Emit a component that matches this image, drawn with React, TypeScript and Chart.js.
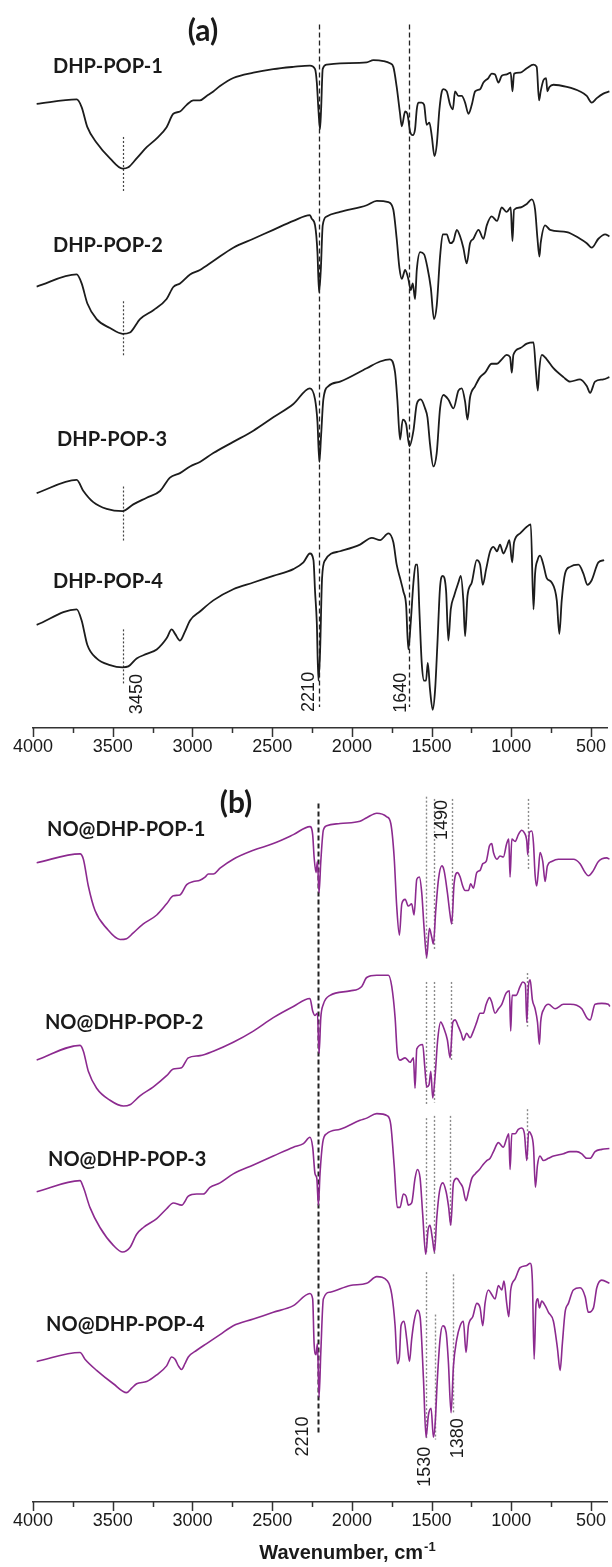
import React, { useEffect, useRef } from 'react';
import { Chart, registerables } from 'chart.js';

Chart.register(...registerables);

type Pair = [number, number];

// ---------- x axis ----------
const xMin = 400;
const xMax = 4000;
const majorTicks = [500, 1000, 1500, 2000, 2500, 3000, 3500, 4000];
const minorTicks = [750, 1250, 1750, 2250, 2750, 3250, 3750];

// ---------- panel (a): [wavenumber cm-1, transmittance a.u. (offset)] ----------
const dhp1: Pair[] = [[3977,138.0],[3726,139.0],[3695,137.3],[3659,132.8],[3601,129.3],[3517,125.8],[3438,123.5],[3402,123.8],[3350,125.8],[3287,128.3],[3224,130.3],[3162,132.8],[3120,135.8],[3078,136.3],[3036,137.8],[2994,138.8],[2953,138.8],[2911,139.8],[2869,140.8],[2827,142.0],[2744,143.8],[2618,145.0],[2493,145.8],[2367,146.3],[2263,146.6],[2231,145.8],[2220,142.8],[2210,136.8],[2200,132.3],[2193,136.8],[2183,145.8],[2158,146.8],[2074,147.1],[1907,147.3],[1865,147.8],[1802,147.6],[1761,147.1],[1740,146.3],[1719,141.8],[1698,135.8],[1687,133.0],[1666,136.3],[1652,135.8],[1635,131.8],[1618,131.0],[1604,132.3],[1593,136.8],[1583,138.3],[1562,138.3],[1547,137.8],[1531,133.3],[1514,133.8],[1499,130.8],[1482,126.3],[1468,128.8],[1451,136.8],[1436,140.8],[1426,141.3],[1405,140.8],[1384,137.8],[1367,136.8],[1353,140.8],[1332,139.8],[1311,139.8],[1290,138.3],[1269,135.8],[1248,137.8],[1227,140.8],[1196,141.3],[1175,142.8],[1144,143.8],[1123,144.8],[1102,144.6],[1081,142.8],[1060,144.3],[1029,144.6],[1004,145.0],[993,140.8],[983,144.8],[945,145.0],[903,146.0],[861,146.8],[841,146.3],[826,138.8],[816,140.8],[799,143.3],[782,143.8],[774,140.8],[761,141.8],[736,142.3],[652,141.8],[569,140.8],[527,139.8],[496,138.3],[464,139.3],[423,140.3],[385,140.8]];

const dhp2: Pair[] = [[3977,97.1],[3726,99.8],[3695,97.8],[3659,93.3],[3601,89.8],[3517,87.8],[3438,86.5],[3392,86.8],[3329,89.8],[3245,91.8],[3162,94.3],[3120,97.0],[3078,97.8],[3015,99.8],[2953,100.8],[2869,102.8],[2744,105.8],[2618,107.8],[2493,109.8],[2367,111.8],[2263,113.1],[2252,112.3],[2231,110.8],[2216,104.8],[2206,95.8],[2195,100.8],[2183,110.8],[2158,112.8],[2074,113.8],[1907,115.3],[1844,116.3],[1771,116.0],[1740,114.3],[1719,107.8],[1702,101.3],[1687,98.8],[1666,100.8],[1646,98.8],[1631,96.3],[1618,97.8],[1604,94.3],[1593,100.8],[1572,104.8],[1547,104.3],[1526,101.3],[1505,96.8],[1485,89.8],[1468,92.8],[1447,103.8],[1430,108.8],[1405,108.8],[1384,106.8],[1363,107.3],[1342,109.8],[1321,108.3],[1301,105.8],[1280,102.3],[1259,106.8],[1238,107.8],[1206,109.8],[1175,107.8],[1154,110.8],[1123,112.8],[1090,111.8],[1060,114.8],[1029,113.8],[1004,114.8],[993,107.3],[983,114.3],[945,114.8],[903,115.6],[872,116.6],[851,114.3],[836,107.8],[824,103.8],[816,106.8],[788,110.8],[757,109.8],[652,109.3],[569,107.8],[527,106.8],[496,105.8],[454,107.8],[412,108.8],[385,108.3]];

const dhp3: Pair[] = [[3977,50.8],[3726,53.8],[3684,51.3],[3622,48.8],[3538,47.3],[3438,46.8],[3371,48.3],[3287,49.8],[3203,51.3],[3141,54.3],[3078,55.3],[3015,56.8],[2953,57.8],[2869,59.8],[2744,62.3],[2618,64.8],[2493,67.8],[2367,70.8],[2263,74.3],[2231,71.8],[2216,66.8],[2204,57.8],[2193,63.8],[2179,71.8],[2147,74.8],[2074,75.8],[1907,78.8],[1823,80.3],[1761,80.8],[1729,77.8],[1715,71.8],[1698,62.8],[1681,67.3],[1660,66.3],[1639,61.3],[1614,64.8],[1593,70.8],[1568,71.8],[1541,69.8],[1526,67.8],[1510,61.8],[1489,56.8],[1468,59.8],[1447,69.8],[1426,72.8],[1395,71.8],[1363,69.8],[1332,73.8],[1311,74.3],[1290,71.3],[1275,67.3],[1259,72.3],[1227,74.8],[1196,76.8],[1165,77.8],[1123,79.8],[1090,79.8],[1060,80.8],[1029,81.8],[1008,81.3],[997,77.8],[987,81.8],[945,83.3],[903,84.3],[861,84.6],[845,77.8],[834,73.8],[824,78.8],[809,81.8],[778,80.8],[736,78.8],[673,76.8],[632,75.8],[569,76.3],[527,74.8],[506,73.3],[475,75.8],[423,76.3],[385,76.8]];

const dhp4: Pair[] = [[3977,21.3],[3726,24.8],[3695,22.3],[3659,16.8],[3601,13.8],[3517,12.3],[3438,11.8],[3402,12.0],[3350,13.8],[3287,14.8],[3224,15.8],[3162,18.3],[3130,20.3],[3109,19.3],[3078,17.8],[3047,19.8],[3015,22.3],[2953,24.3],[2869,26.8],[2744,29.3],[2618,30.8],[2493,32.3],[2367,33.8],[2304,35.3],[2263,37.3],[2241,35.8],[2231,28.8],[2220,21.8],[2210,8.8],[2200,14.8],[2187,31.8],[2168,35.8],[2074,37.8],[1949,39.3],[1875,40.8],[1823,40.3],[1771,41.8],[1740,39.8],[1719,34.8],[1698,31.8],[1677,28.8],[1660,25.8],[1646,15.8],[1631,21.8],[1614,30.8],[1600,34.8],[1589,34.8],[1577,24.8],[1562,12.8],[1547,8.8],[1535,8.8],[1524,12.8],[1510,6.8],[1493,2.3],[1478,6.8],[1464,16.8],[1447,29.8],[1430,32.3],[1409,28.8],[1395,17.8],[1380,24.8],[1359,27.8],[1332,30.8],[1317,32.3],[1301,26.8],[1290,18.8],[1275,27.8],[1248,30.8],[1217,35.8],[1196,34.8],[1179,30.3],[1158,33.8],[1133,37.8],[1112,38.8],[1090,37.8],[1071,39.3],[1050,37.3],[1029,38.8],[1012,40.3],[995,35.3],[983,39.8],[945,41.8],[903,43.3],[878,43.8],[861,24.8],[851,32.8],[836,35.8],[820,36.8],[799,34.8],[778,31.8],[747,30.8],[715,26.8],[699,19.3],[684,26.8],[663,32.8],[632,34.3],[579,34.8],[548,32.8],[523,30.3],[496,31.3],[454,35.3],[418,35.8]];

// ---------- panel (b) ----------
const no1: Pair[] = [[3977,140.5],[3705,142.5],[3684,141.3],[3653,135.3],[3611,129.8],[3538,125.8],[3454,123.3],[3413,123.5],[3371,124.8],[3308,126.8],[3224,128.8],[3162,131.3],[3120,133.1],[3078,133.3],[3036,135.6],[2994,136.3],[2953,136.6],[2921,137.3],[2900,138.0],[2869,138.0],[2827,139.3],[2744,141.3],[2618,143.3],[2493,144.8],[2367,146.8],[2263,148.6],[2246,146.8],[2237,141.8],[2225,138.3],[2216,140.8],[2206,133.8],[2195,140.8],[2179,147.8],[2158,148.8],[2074,149.3],[1949,149.8],[1907,150.6],[1844,151.6],[1781,150.8],[1756,149.3],[1735,141.8],[1719,130.8],[1702,124.3],[1687,131.3],[1666,132.3],[1646,130.8],[1625,131.3],[1610,128.8],[1593,136.8],[1577,137.3],[1562,133.8],[1547,125.8],[1531,119.3],[1514,125.8],[1499,123.8],[1489,122.3],[1474,129.8],[1457,136.8],[1436,139.8],[1422,138.8],[1401,133.8],[1384,128.8],[1374,126.8],[1359,135.8],[1338,138.3],[1321,137.3],[1305,135.3],[1290,134.3],[1269,134.3],[1255,135.8],[1238,134.8],[1217,138.3],[1196,138.8],[1179,140.3],[1158,140.8],[1137,144.3],[1123,144.8],[1112,142.8],[1090,141.3],[1071,142.0],[1050,141.8],[1029,144.8],[1016,145.8],[1008,137.3],[997,145.8],[976,145.3],[956,146.8],[935,147.8],[920,147.3],[903,145.3],[897,142.3],[887,147.3],[872,147.6],[861,144.8],[851,137.8],[841,135.3],[830,138.8],[820,142.8],[803,140.8],[788,136.3],[774,139.8],[747,140.8],[705,141.3],[652,141.3],[611,141.3],[569,140.3],[537,138.3],[517,137.6],[485,138.8],[454,140.8],[402,141.6],[385,141.3]];

const no2: Pair[] = [[3977,96.3],[3705,99.6],[3684,98.3],[3653,93.8],[3601,90.0],[3517,87.3],[3433,86.0],[3392,86.3],[3329,88.3],[3245,90.3],[3162,92.8],[3120,94.3],[3068,94.6],[3026,96.8],[2953,97.3],[2869,98.3],[2744,100.3],[2618,102.8],[2493,105.8],[2367,108.3],[2263,110.1],[2246,107.3],[2231,106.3],[2216,106.8],[2206,97.8],[2195,105.8],[2179,108.8],[2137,110.8],[2011,111.8],[1938,112.8],[1907,114.8],[1844,115.3],[1771,115.3],[1750,112.8],[1729,105.8],[1715,97.8],[1698,96.3],[1666,96.8],[1635,95.8],[1614,96.8],[1604,90.0],[1593,98.8],[1556,99.8],[1543,94.8],[1531,90.3],[1516,90.8],[1505,93.8],[1493,87.8],[1478,92.8],[1462,100.8],[1443,104.8],[1422,103.3],[1401,100.8],[1384,96.8],[1367,104.8],[1353,105.3],[1332,103.8],[1315,102.3],[1301,100.8],[1280,102.3],[1259,101.3],[1238,102.8],[1217,104.8],[1196,106.8],[1175,106.8],[1158,108.8],[1137,110.3],[1123,109.3],[1102,106.8],[1081,107.8],[1060,108.8],[1033,111.3],[1012,111.8],[1004,102.8],[995,110.8],[970,110.8],[945,112.8],[928,113.8],[912,113.3],[903,104.8],[893,112.8],[882,114.3],[868,109.8],[851,107.8],[836,104.8],[824,99.8],[816,104.8],[795,107.8],[767,108.8],[726,107.8],[673,108.8],[632,108.8],[590,108.6],[558,107.8],[527,105.8],[506,105.3],[475,108.8],[433,109.0],[392,108.8],[382,108.3]];

const no3: Pair[] = [[3977,66.8],[3705,69.3],[3684,67.8],[3643,63.3],[3580,58.8],[3496,54.8],[3438,53.3],[3392,54.3],[3350,57.3],[3308,58.8],[3224,60.8],[3162,63.0],[3120,64.3],[3068,63.8],[3026,65.8],[2973,66.3],[2932,66.3],[2890,67.8],[2827,68.8],[2744,70.8],[2618,72.8],[2493,74.8],[2367,76.8],[2304,77.6],[2263,79.0],[2246,76.8],[2231,70.8],[2220,69.8],[2210,63.8],[2200,70.8],[2183,77.8],[2158,79.8],[2074,80.8],[1949,82.8],[1907,83.3],[1844,84.3],[1777,83.8],[1756,81.8],[1735,72.8],[1715,63.3],[1698,63.3],[1677,66.3],[1660,65.8],[1646,63.8],[1625,64.3],[1604,69.8],[1589,71.8],[1572,69.8],[1556,61.8],[1537,52.8],[1522,58.3],[1510,59.3],[1495,56.3],[1482,53.3],[1468,60.8],[1451,66.8],[1430,68.8],[1409,66.8],[1393,63.3],[1380,59.3],[1363,68.8],[1342,69.8],[1321,68.8],[1305,67.8],[1284,64.8],[1269,66.8],[1248,69.8],[1227,70.8],[1200,71.8],[1179,72.8],[1154,73.8],[1133,74.3],[1112,75.8],[1081,77.8],[1050,76.8],[1029,78.8],[1016,79.8],[1008,71.8],[997,79.8],[976,79.8],[956,80.8],[935,81.1],[918,79.8],[903,73.8],[891,80.3],[878,79.8],[861,76.8],[849,67.8],[836,72.8],[820,74.8],[799,73.8],[767,74.3],[736,74.8],[673,75.3],[632,75.8],[590,75.8],[558,75.3],[527,74.3],[506,74.3],[475,75.8],[433,76.3],[385,76.5]];

const no4: Pair[] = [[3977,28.8],[3705,30.8],[3674,29.3],[3601,26.8],[3496,23.8],[3413,21.8],[3381,22.8],[3350,23.8],[3287,24.3],[3224,25.8],[3162,27.8],[3130,29.8],[3109,29.3],[3088,27.8],[3068,27.0],[3047,28.3],[3026,29.8],[2973,31.3],[2911,32.8],[2827,34.8],[2744,36.8],[2618,38.3],[2493,39.8],[2367,41.3],[2263,44.0],[2246,42.8],[2237,32.8],[2225,30.3],[2216,32.8],[2206,20.8],[2195,30.8],[2179,42.8],[2137,44.3],[2011,45.8],[1907,46.3],[1844,47.8],[1777,46.8],[1750,43.8],[1729,36.8],[1715,28.3],[1702,29.8],[1692,36.8],[1673,37.8],[1656,33.8],[1639,28.8],[1625,33.8],[1610,37.8],[1589,40.3],[1572,38.8],[1551,24.8],[1535,11.8],[1520,16.8],[1503,18.3],[1489,11.8],[1478,14.8],[1464,24.8],[1447,33.8],[1430,36.8],[1409,35.3],[1395,28.8],[1378,17.3],[1363,27.8],[1342,33.8],[1321,36.8],[1301,37.8],[1284,30.8],[1269,36.8],[1242,38.8],[1217,41.8],[1196,40.8],[1179,36.8],[1165,41.8],[1144,44.8],[1123,43.8],[1102,42.8],[1081,45.8],[1060,44.8],[1046,46.8],[1029,41.8],[1016,38.8],[1004,44.8],[976,47.3],[945,49.8],[903,50.3],[882,50.8],[868,46.8],[857,29.3],[845,41.8],[834,42.8],[824,40.8],[809,42.3],[788,41.3],[767,39.8],[736,37.8],[711,31.8],[694,26.8],[680,32.8],[663,39.8],[642,41.8],[611,44.8],[569,45.3],[537,43.3],[517,39.8],[485,40.8],[464,45.3],[433,47.0],[385,46.3]];

// ---------- annotations ----------
const seriesNamesA = ['DHP-POP-1', 'DHP-POP-2', 'DHP-POP-3', 'DHP-POP-4'];
const seriesNamesB = ['NO@DHP-POP-1', 'NO@DHP-POP-2', 'NO@DHP-POP-3', 'NO@DHP-POP-4'];
const peakLabelsA = ['3450', '2210', '1640'];
const peakLabelsB = ['2210', '1490', '1530', '1380'];

type Line = { wn: number; from: number; to: number; dash: number[]; color: string; width: number };
type Txt = { text: string; wn: number; v: number; font: string; align: CanvasTextAlign; rotate?: boolean; sup?: string };

const LABEL_FONT = "bold 20px Lato, 'Open Sans', sans-serif";
const PANEL_FONT = "bold 30px Lato, 'Open Sans', sans-serif";
const NUM_FONT = "18px 'Liberation Sans', Arial, sans-serif";

const annA: { lines: Line[]; texts: Txt[] } = {
  lines: [
    { wn: 2204, from: 155.8, to: 2.9, dash: [5, 3], color: '#222', width: 1.3 },
    { wn: 1639, from: 155.8, to: 2.9, dash: [5, 3], color: '#222', width: 1.3 },
    { wn: 3438, from: 130.6, to: 118.3, dash: [2, 2], color: '#444', width: 1.2 },
    { wn: 3438, from: 93.8, to: 81.3, dash: [2, 2], color: '#444', width: 1.2 },
    { wn: 3438, from: 52.3, to: 39.8, dash: [2, 2], color: '#444', width: 1.2 },
    { wn: 3438, from: 20.3, to: 7.8, dash: [2, 2], color: '#444', width: 1.2 },
  ],
  texts: [
    { text: '(a)', wn: 2934, v: 154.3, font: PANEL_FONT, align: 'center' },
    { text: seriesNamesA[0], wn: 3875, v: 146.3, font: LABEL_FONT, align: 'left' },
    { text: seriesNamesA[1], wn: 3875, v: 106.3, font: LABEL_FONT, align: 'left' },
    { text: seriesNamesA[2], wn: 3849, v: 62.8, font: LABEL_FONT, align: 'left' },
    { text: seriesNamesA[3], wn: 3875, v: 31.0, font: LABEL_FONT, align: 'left' },
    { text: peakLabelsA[0], wn: 3348, v: 5.8, font: NUM_FONT, align: 'center', rotate: true },
    { text: peakLabelsA[1], wn: 2269, v: 6.3, font: NUM_FONT, align: 'center', rotate: true },
    { text: peakLabelsA[2], wn: 1692, v: 6.1, font: NUM_FONT, align: 'center', rotate: true },
  ],
};

const DOT = [2, 2];
const GRAY = '#8a8a8a';
const annB: { lines: Line[]; texts: Txt[]; title: Txt } = {
  lines: [
    { wn: 2210, from: 153.8, to: 12.3, dash: [5, 3], color: '#222', width: 2 },
    { wn: 1535, from: 155.3, to: 118.8, dash: DOT, color: GRAY, width: 1.4 },
    { wn: 1485, from: 154.8, to: 120.8, dash: DOT, color: GRAY, width: 1.4 },
    { wn: 1374, from: 154.8, to: 126.8, dash: DOT, color: GRAY, width: 1.4 },
    { wn: 893, from: 154.8, to: 138.8, dash: DOT, color: GRAY, width: 1.4 },
    { wn: 1535, from: 113.8, to: 86.3, dash: DOT, color: GRAY, width: 1.4 },
    { wn: 1485, from: 113.8, to: 86.8, dash: DOT, color: GRAY, width: 1.4 },
    { wn: 1380, from: 113.8, to: 96.3, dash: DOT, color: GRAY, width: 1.4 },
    { wn: 903, from: 115.8, to: 103.8, dash: DOT, color: GRAY, width: 1.4 },
    { wn: 1535, from: 83.3, to: 52.8, dash: DOT, color: GRAY, width: 1.4 },
    { wn: 1485, from: 83.8, to: 52.8, dash: DOT, color: GRAY, width: 1.4 },
    { wn: 1384, from: 83.8, to: 59.3, dash: DOT, color: GRAY, width: 1.4 },
    { wn: 899, from: 85.3, to: 73.8, dash: DOT, color: GRAY, width: 1.4 },
    { wn: 1535, from: 48.8, to: 11.3, dash: DOT, color: GRAY, width: 1.4 },
    { wn: 1478, from: 39.3, to: 11.3, dash: DOT, color: GRAY, width: 1.4 },
    { wn: 1367, from: 48.3, to: 17.3, dash: DOT, color: GRAY, width: 1.4 },
  ],
  texts: [
    { text: '(b)', wn: 2727, v: 153.8, font: PANEL_FONT, align: 'center' },
    { text: seriesNamesB[0], wn: 3912, v: 148.0, font: LABEL_FONT, align: 'left' },
    { text: seriesNamesB[1], wn: 3925, v: 104.8, font: LABEL_FONT, align: 'left' },
    { text: seriesNamesB[2], wn: 3906, v: 74.0, font: LABEL_FONT, align: 'left' },
    { text: seriesNamesB[3], wn: 3918, v: 37.0, font: LABEL_FONT, align: 'left' },
    { text: peakLabelsB[0], wn: 2307, v: 12.0, font: NUM_FONT, align: 'center', rotate: true },
    { text: peakLabelsB[1], wn: 1435, v: 150.1, font: NUM_FONT, align: 'center', rotate: true },
    { text: peakLabelsB[2], wn: 1541, v: 5.2, font: NUM_FONT, align: 'center', rotate: true },
    { text: peakLabelsB[3], wn: 1334, v: 11.6, font: NUM_FONT, align: 'center', rotate: true },
  ],
  title: { text: 'Wavenumber, cm', sup: '-1', wn: 2031, v: 0, font: "bold 20px 'Liberation Sans', Arial, sans-serif", align: 'center' },
};

const annotPlugin = {
  id: 'annot',
  beforeDatasetsDraw(chart: any, _a: any, opts: any) {
    const { ctx, scales } = chart;
    const x = scales.x, y = scales.y;
    ctx.save();
    for (const l of opts.lines as Line[]) {
      ctx.beginPath();
      ctx.setLineDash(l.dash);
      ctx.strokeStyle = l.color;
      ctx.lineWidth = l.width;
      const px = Math.round(x.getPixelForValue(l.wn)) + 0.5;
      ctx.moveTo(px, y.getPixelForValue(l.from));
      ctx.lineTo(px, y.getPixelForValue(l.to));
      ctx.stroke();
    }
    ctx.restore();
  },
  afterDraw(chart: any, _a: any, opts: any) {
    const { ctx, scales, chartArea } = chart;
    const x = scales.x, y = scales.y;
    ctx.save();
    ctx.strokeStyle = '#333';
    ctx.lineWidth = 1.5;
    ctx.setLineDash([]);
    const all = [...majorTicks.map((v) => [v, 9]), ...minorTicks.map((v) => [v, 5])];
    for (const [v, len] of all) {
      const px = Math.round(x.getPixelForValue(v)) + 0.5;
      ctx.beginPath();
      ctx.moveTo(px, chartArea.bottom);
      ctx.lineTo(px, chartArea.bottom + len);
      ctx.stroke();
    }
    ctx.fillStyle = '#1a1a1a';
    for (const t of opts.texts as Txt[]) {
      const px = x.getPixelForValue(t.wn);
      const py = y.getPixelForValue(t.v);
      ctx.font = t.font;
      ctx.textBaseline = 'middle';
      if (t.rotate) {
        ctx.save();
        ctx.translate(px, py);
        ctx.rotate(-Math.PI / 2);
        ctx.textAlign = 'center';
        ctx.fillText(t.text, 0, 0);
        ctx.restore();
      } else {
        ctx.textAlign = t.align;
        ctx.fillText(t.text, px, py);
      }
    }
    if (opts.title) {
      const t = opts.title as Txt;
      ctx.font = t.font;
      const w1 = ctx.measureText(t.text).width;
      const supFont = "bold 13px 'Liberation Sans', Arial, sans-serif";
      ctx.font = supFont;
      const w2 = ctx.measureText(t.sup || '').width;
      const cx = x.getPixelForValue(t.wn);
      const cy = chartArea.bottom + 50;
      const left = cx - (w1 + w2) / 2;
      ctx.textAlign = 'left';
      ctx.textBaseline = 'alphabetic';
      ctx.font = t.font;
      ctx.fillText(t.text, left, cy + 7);
      ctx.font = supFont;
      ctx.fillText(t.sup || '', left + w1 + 1, cy - 1);
    }
    ctx.restore();
  },
};

function buildChart(
  canvas: HTMLCanvasElement,
  series: Pair[][],
  names: string[],
  color: string,
  width: number,
  ann: any,
  yMin: number,
  yMax: number,
  padTop: number,
  axisH: number
) {
  return new Chart(canvas, {
    type: 'line',
    data: {
      datasets: series.map((s, i) => ({
        label: names[i],
        data: s.map(([wn, v]) => ({ x: wn, y: v })),
        borderColor: color,
        borderWidth: width,
        pointRadius: 0,
        cubicInterpolationMode: 'monotone',
        fill: false,
        clip: 12,
        borderJoinStyle: 'round',
      })),
    },
    options: {
      animation: false,
      responsive: false,
      devicePixelRatio: 1,
      layout: { padding: { top: padTop, left: 33, right: 5, bottom: 0 } },
      plugins: {
        legend: { display: false },
        tooltip: { enabled: false },
        annot: ann,
      } as any,
      scales: {
        x: {
          type: 'linear',
          min: xMin,
          max: xMax,
          reverse: true,
          afterBuildTicks: (s: any) => {
            s.ticks = majorTicks.map((v) => ({ value: v }));
          },
          afterFit: (s: any) => {
            s.height = axisH;
          },
          grid: { display: false, drawTicks: false, tickLength: 0 },
          border: { display: true, color: '#333', width: 1.5 },
          ticks: {
            autoSkip: false,
            maxRotation: 0,
            padding: 8,
            color: '#1a1a1a',
            font: { family: "'Liberation Sans', Arial, sans-serif", size: 18 },
            callback: (v: any) => String(v),
          },
        },
        y: { display: false, min: yMin, max: yMax },
      },
    },
    plugins: [annotPlugin as any],
  });
}

export default function App() {
  const topRef = useRef<HTMLCanvasElement>(null);
  const botRef = useRef<HTMLCanvasElement>(null);

  useEffect(() => {
    const c1 = buildChart(topRef.current!, [dhp1, dhp2, dhp3, dhp4], seriesNamesA, '#1c1c1c', 1.8, annA, -1.79, 156.8, 20, 47);
    const c2 = buildChart(botRef.current!, [no1, no2, no3, no4], seriesNamesB, '#8c2a8f', 1.6, annB, -2.69, 156.8, 15, 65);
    return () => {
      c1.destroy();
      c2.destroy();
    };
  }, []);

  return (
    <div style={{ position: 'absolute', left: 0, top: 0, width: 612, height: 1567, background: '#fff' }}>
      <canvas ref={topRef} width={612} height={775} style={{ position: 'absolute', left: 0, top: 0, width: 612, height: 775 }} />
      <canvas ref={botRef} width={612} height={792} style={{ position: 'absolute', left: 0, top: 775, width: 612, height: 792 }} />
    </div>
  );
}
